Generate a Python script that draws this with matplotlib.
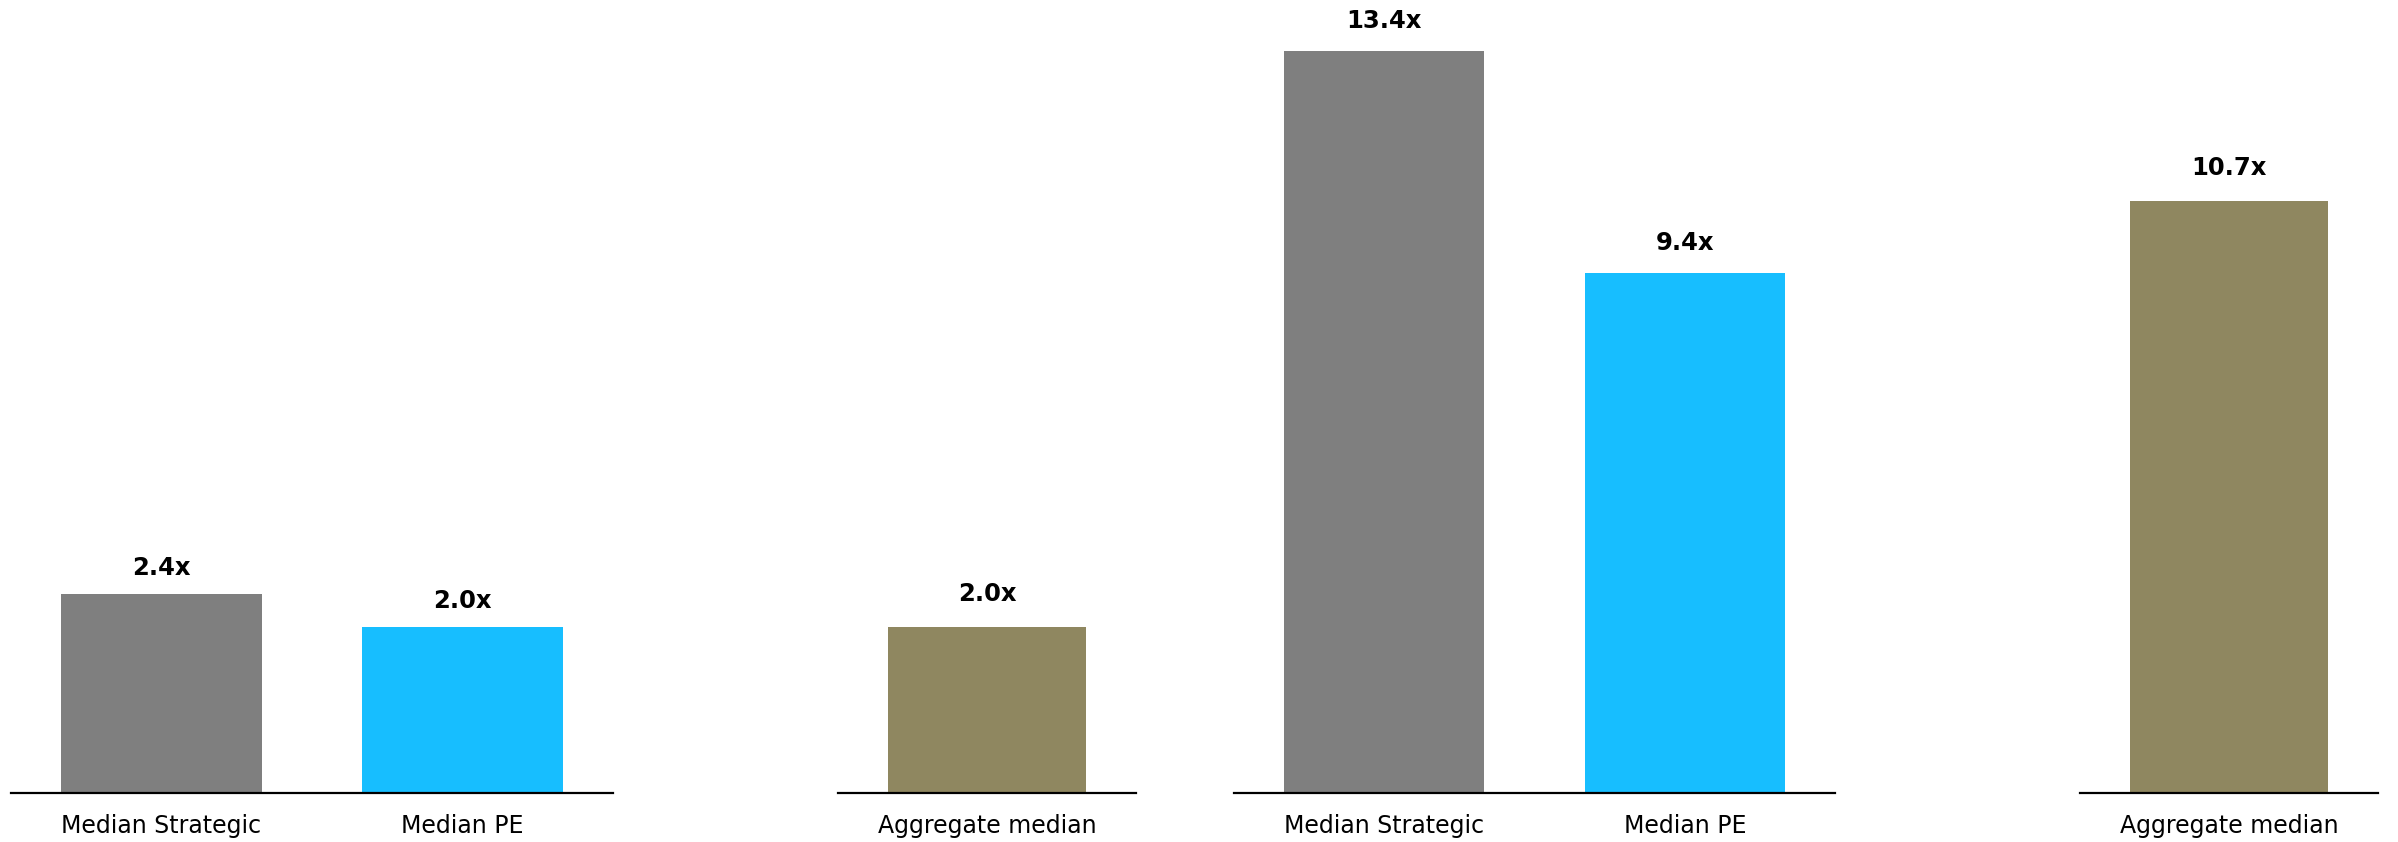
import matplotlib.pyplot as plt

# Median multiples, strategic vs PE buyers, and the aggregate median
left_labels = ["Median Strategic", "Median PE"]
left_values = [2.4, 2.0]
left_agg_label = ["Aggregate median"]
left_agg_value = [2.0]

right_labels = ["Median Strategic", "Median PE"]
right_values = [13.4, 9.4]
right_agg_label = ["Aggregate median"]
right_agg_value = [10.7]

GREY = "#7f7f7f"
CYAN = "#17beff"
OLIVE = "#8f8760"

plt.rcParams["font.family"] = ["DejaVu Sans"]

fig = plt.figure(figsize=(23.98, 8.42), dpi=100)
W, H = 2398, 842
base = 792.7


def panel(x0, x1, labels, values, colors, ymax, pad):
    ax = fig.add_axes([x0 / W, (H - base) / H, (x1 - x0) / W, base / H])
    x = list(range(len(values)))
    ax.bar(x, values, width=0.667, color=colors)
    ax.set_xlim(-0.5, len(values) - 0.5)
    ax.set_ylim(0, ymax)
    for xi, v in zip(x, values):
        ax.annotate(f"{v:.1f}x", xy=(xi, v), xytext=(0, pad),
                    textcoords="offset pixels", ha="center", va="center",
                    fontsize=17.5, fontweight="bold")
    ax.set_xticks(x)
    ax.set_xticklabels(labels, fontsize=17)
    ax.tick_params(axis="x", length=0, pad=15)
    ax.set_yticks([])
    for side in ["top", "left", "right"]:
        ax.spines[side].set_visible(False)
    ax.spines["bottom"].set_linewidth(1.6)
    ax.patch.set_alpha(0)
    return ax


panel(11, 613, left_labels, left_values, [GREY, CYAN], 9.57, 26)
panel(838, 1136, left_agg_label, left_agg_value, [OLIVE], 9.57, 33)
panel(1234, 1835, right_labels, right_values, [GREY, CYAN], 14.33, 30)
panel(2080, 2378, right_agg_label, right_agg_value, [OLIVE], 14.33, 33)

fig.savefig("out.png", dpi=100)
